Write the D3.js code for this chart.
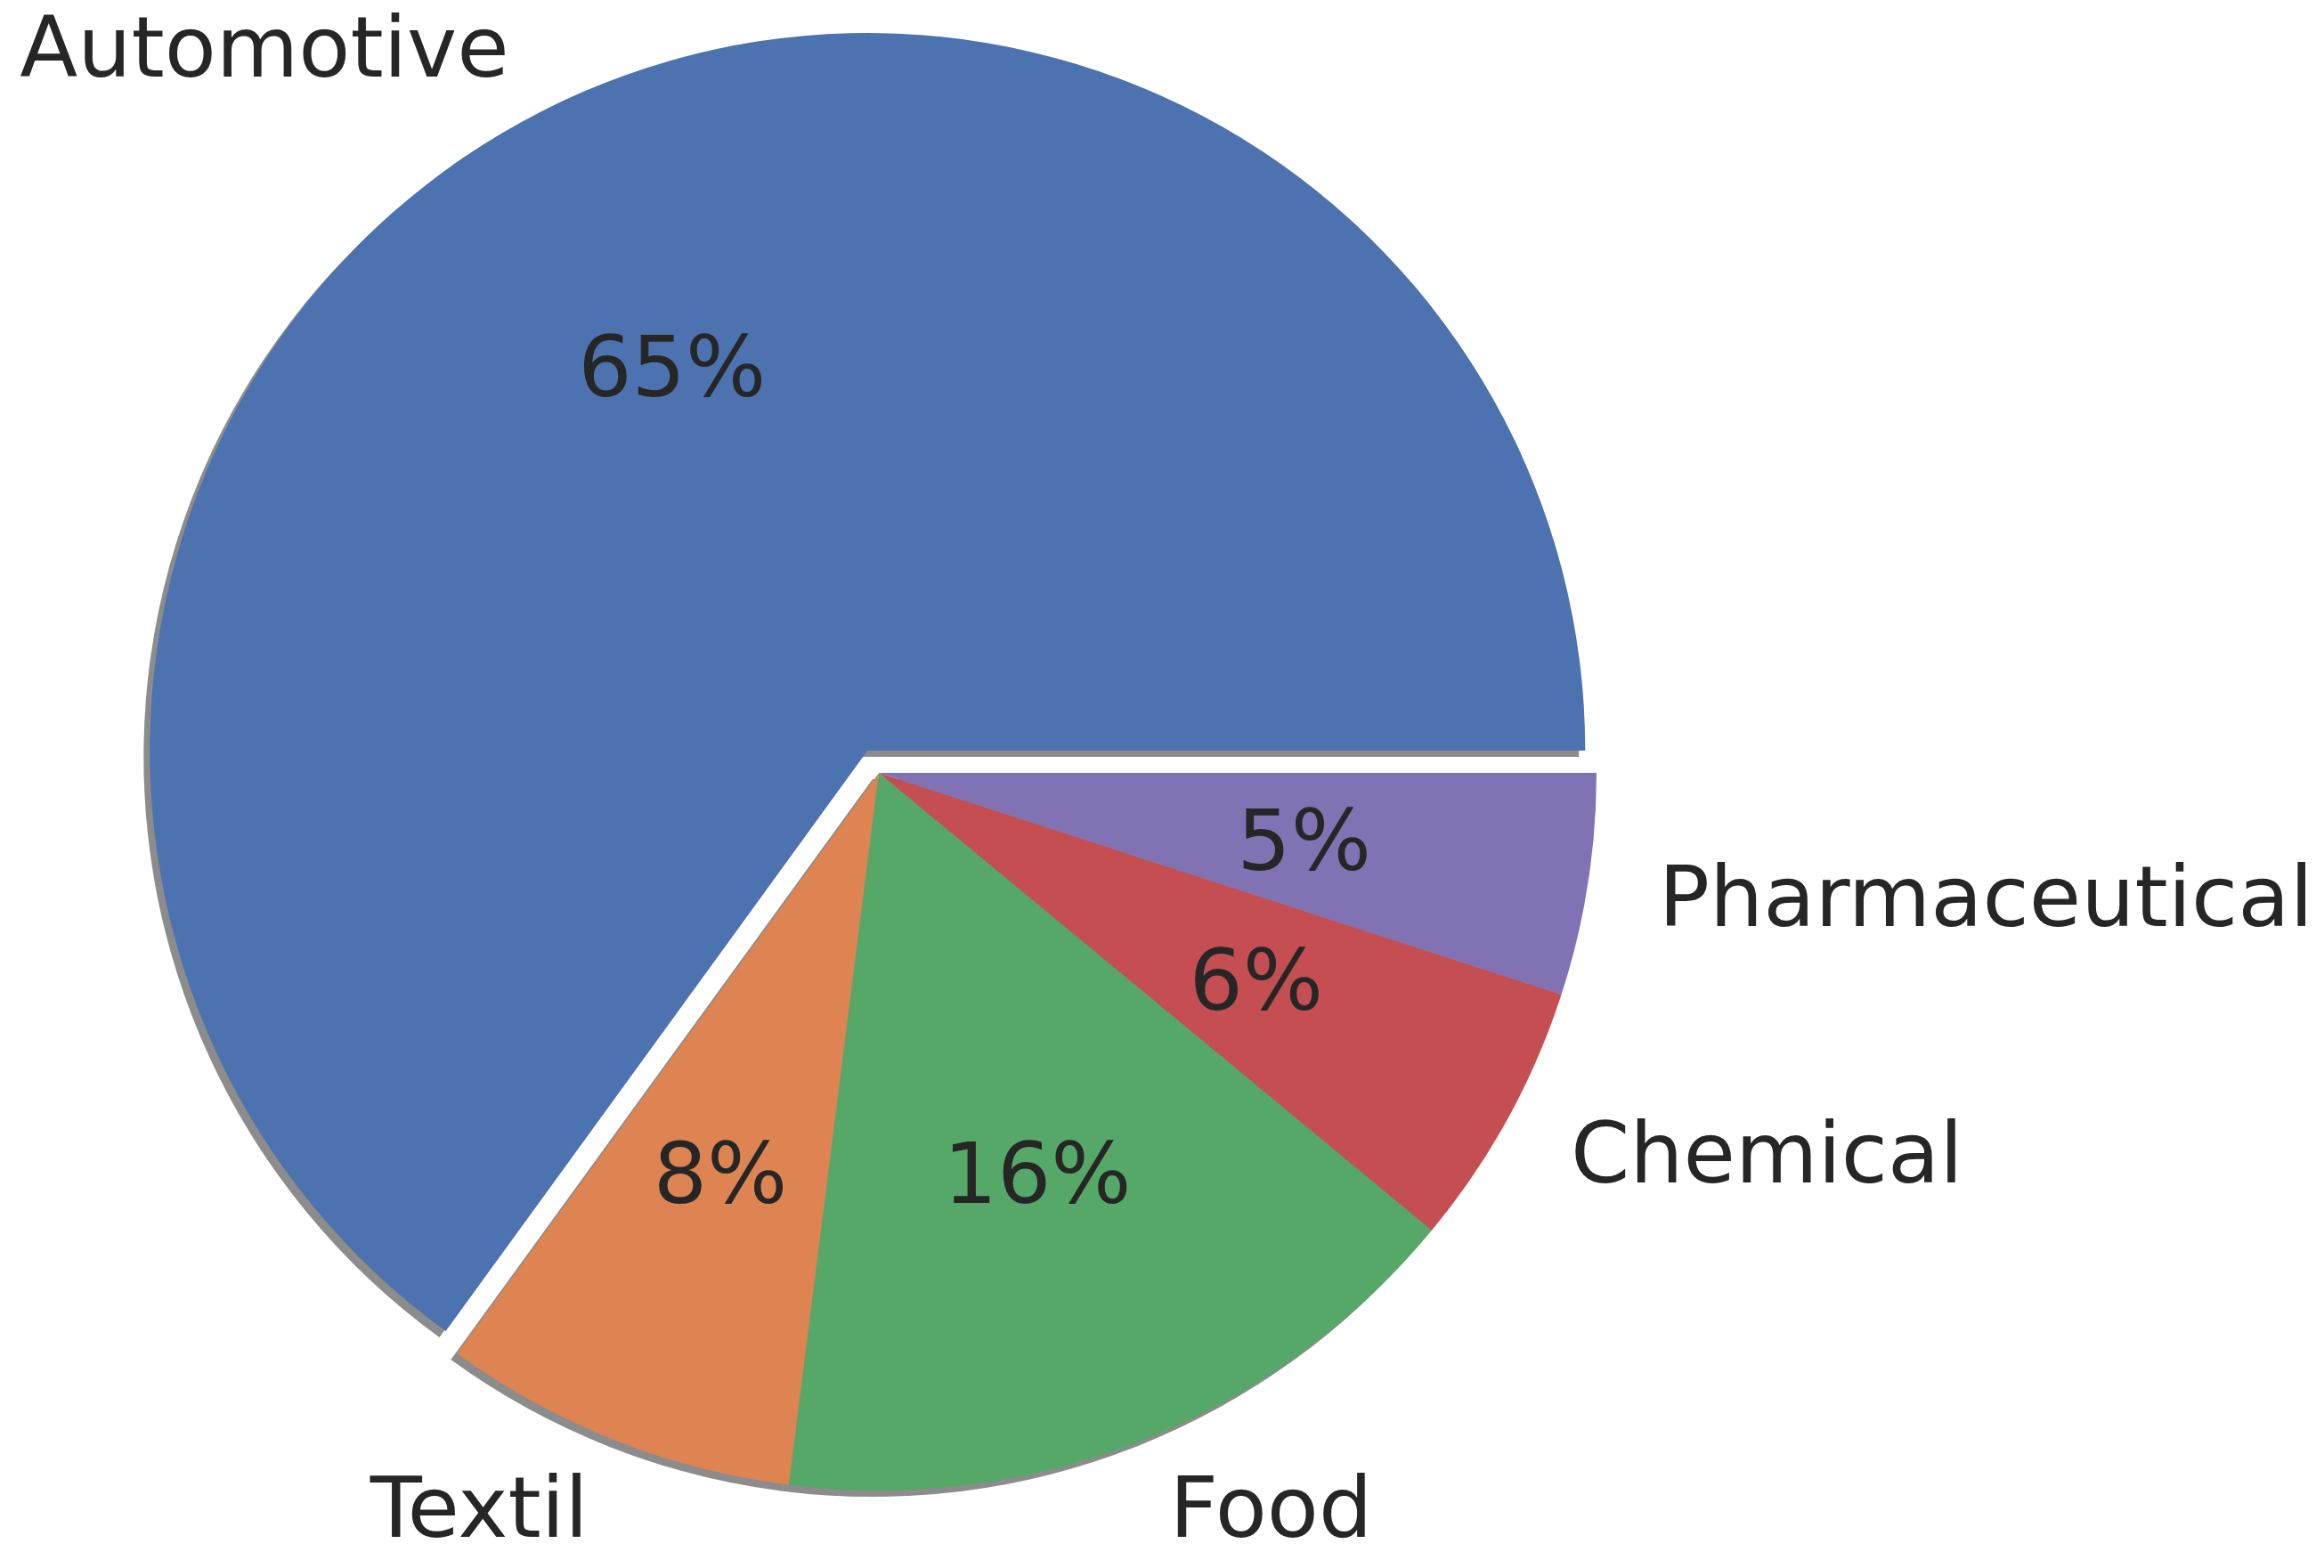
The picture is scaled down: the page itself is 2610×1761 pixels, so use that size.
<!DOCTYPE html>
<html><head><meta charset="utf-8">
<script src="https://cdn.jsdelivr.net/npm/d3@7"></script>
<style>body{margin:0;background:#fff}</style></head>
<body><svg id="c" width="2610" height="1761"></svg>
<script>
const categories = ["Automotive","Textil","Food","Chemical","Pharmaceutical"];
const values = [65, 8, 16, 6, 5];
const colors = ["#4C72B0","#DD8452","#55A868","#C44E52","#8172B3"];
const explode = [1,0,0,0,0];

const svg = d3.select("#c");
const cx = 987, cy = 868, r = 806, off = 28, fs = 95;
const pie = d3.pie().sort(null).value(d=>d).startAngle(Math.PI/2).endAngle(Math.PI/2 - 2*Math.PI);
const arcs = pie(values);
const arc = d3.arc().innerRadius(0).outerRadius(r);
function mid(a){ return (a.startAngle + a.endAngle)/2; }
function pos(a, k){ const m = mid(a); return [k*Math.sin(m), -k*Math.cos(m)]; }

const g = svg.append("g").attr("transform",`translate(${cx},${cy})`);
arcs.forEach((a,i)=>{
  const [ox,oy] = explode[i] ? pos(a, off) : [0,0];
  g.append("path").attr("d", arc(a)).attr("fill","#000").attr("opacity",0.45)
   .attr("transform",`translate(${ox-7},${oy+7})`);
});
arcs.forEach((a,i)=>{
  const [ox,oy] = explode[i] ? pos(a, off) : [0,0];
  g.append("path").attr("d", arc(a)).attr("fill",colors[i])
   .attr("transform",`translate(${ox},${oy})`);
  const [lx,ly] = pos(a, 1.1*r);
  g.append("text").attr("x",lx+ox).attr("y",ly+oy).attr("dy","0.35em")
   .attr("text-anchor", lx>0 ? "start":"end")
   .attr("font-family","DejaVu Sans").attr("font-size",fs).attr("fill","#262626")
   .text(categories[i]);
  const [px,py] = pos(a, 0.6*r);
  g.append("text").attr("x",px+ox).attr("y",py+oy).attr("dy","0.35em")
   .attr("text-anchor","middle")
   .attr("font-family","DejaVu Sans").attr("font-size",fs).attr("fill","#262626")
   .text(Math.round(values[i])+"%");
});
</script></body></html>
